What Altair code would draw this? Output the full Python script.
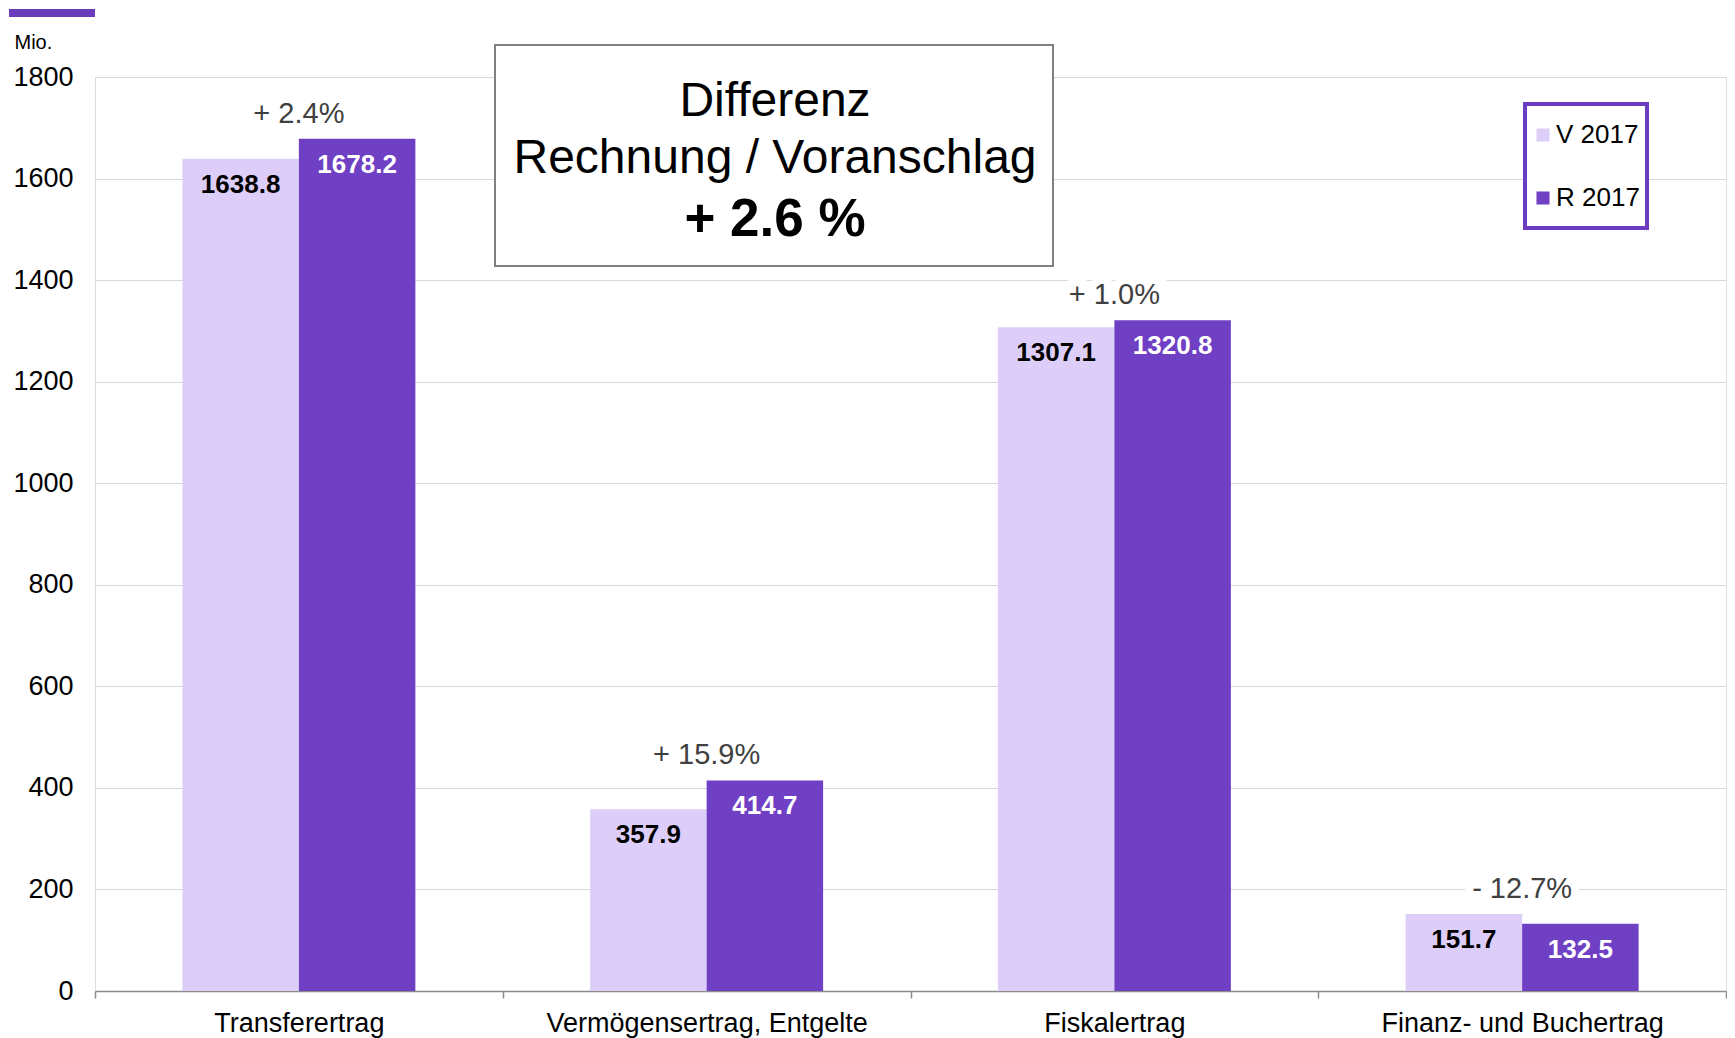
import altair as alt
import pandas as pd

categories = ["Transferertrag", "Vermögensertrag, Entgelte", "Fiskalertrag", "Finanz- und Buchertrag"]
series_names = ["V 2017", "R 2017"]
v_values = [1638.8, 357.9, 1307.1, 151.7]
r_values = [1678.2, 414.7, 1320.8, 132.5]
pct_labels = ["+ 2.4%", "+ 15.9%", "+ 1.0%", "- 12.7%"]
y_ticks = [0, 200, 400, 600, 800, 1000, 1200, 1400, 1600, 1800]
box_lines = ["Differenz", "Rechnung / Voranschlag", "+ 2.6 %"]

FONT = "Liberation Sans"
LIGHT = "#DDCEF9"
DARK = "#7040C4"

rows = []
for c, v, r in zip(categories, v_values, r_values):
    rows.append({"cat": c, "series": series_names[0], "value": v, "label": f"{v:.1f}"})
    rows.append({"cat": c, "series": series_names[1], "value": r, "label": f"{r:.1f}"})
df = pd.DataFrame(rows)

pct_df = pd.DataFrame({
    "cat": categories,
    "value": [max(v, r) for v, r in zip(v_values, r_values)],
    "pct": pct_labels,
})

x_enc = alt.X(
    "cat:N", sort=categories,
    scale=alt.Scale(paddingInner=0, paddingOuter=0),
    axis=alt.Axis(title=None, labelAngle=0, labelFontSize=27, labelColor="black",
                  labelFont=FONT, labelLimit=0, ticks=True, tickBand="extent", tickSize=7,
                  tickColor="#8c8c8c", domainColor="#8c8c8c", domainWidth=1.5,
                  tickWidth=1.5, labelPadding=12, grid=False),
)
y_enc = alt.Y(
    "value:Q",
    scale=alt.Scale(domain=[0, 1800], nice=False),
    axis=alt.Axis(title="Mio.", titleAngle=0, titleX=-81, titleY=-35, titleAlign="left",
                  titleBaseline="middle", titleFontSize=20, titleFontWeight="normal",
                  titleFont=FONT, titleColor="black", format="d",
                  values=y_ticks, labelFontSize=27, labelFont=FONT, labelColor="black",
                  ticks=False, domain=False, labelPadding=22,
                  grid=True, gridColor="#d9d9d9", gridWidth=1),
)
xoff_enc = alt.XOffset("series:N", sort=series_names,
                       scale=alt.Scale(paddingInner=0, paddingOuter=0.75))

bars = alt.Chart(df).mark_bar().encode(
    x=x_enc,
    xOffset=xoff_enc,
    y=y_enc,
    color=alt.Color(
        "series:N", sort=series_names,
        scale=alt.Scale(domain=series_names, range=[LIGHT, DARK]),
        legend=alt.Legend(
            title=None, orient="none", legendX=1419, legendY=29,
            symbolType="square", symbolSize=170, symbolStrokeWidth=0,
            labelFontSize=26, labelFont=FONT, labelColor="black", labelOffset=0,
            padding=16, rowPadding=37,
        ),
    ),
)

values_text = alt.Chart(df).mark_text(
    font=FONT, fontSize=26, fontWeight="bold", dy=26, baseline="middle"
).encode(
    x=x_enc,
    xOffset=xoff_enc,
    y=y_enc,
    text="label:N",
    color=alt.condition(alt.datum.series == series_names[0], alt.value("black"), alt.value("white")),
)

pct_halo = alt.Chart(pct_df).mark_text(
    font=FONT, fontSize=29, dy=-25, baseline="middle",
    fill="white", stroke="white", strokeWidth=16,
).encode(x=x_enc, y=y_enc, text="pct:N")

pct_text = alt.Chart(pct_df).mark_text(
    font=FONT, fontSize=29, dy=-25, baseline="middle", color="#404040",
).encode(x=x_enc, y=y_enc, text="pct:N")

one = alt.Data(values=[{}])

box = alt.Chart(one).mark_rect(fill="white", stroke="#808080", strokeWidth=2).encode(
    x=alt.value(400), x2=alt.value(958), y=alt.value(-32), y2=alt.value(189)
)
line1 = alt.Chart(one).mark_text(font=FONT, fontSize=48, color="black", baseline="middle").encode(
    x=alt.value(680), y=alt.value(25), text=alt.value(box_lines[0]))
line2 = alt.Chart(one).mark_text(font=FONT, fontSize=48, color="black", baseline="middle").encode(
    x=alt.value(680), y=alt.value(82), text=alt.value(box_lines[1]))
line3 = alt.Chart(one).mark_text(font=FONT, fontSize=53, fontWeight="bold", color="black",
                                 baseline="middle").encode(
    x=alt.value(680), y=alt.value(143), text=alt.value(box_lines[2]))

legend_box = alt.Chart(one).mark_rect(fill="white", stroke="#6A3DC0", strokeWidth=4).encode(
    x=alt.value(1430), x2=alt.value(1552), y=alt.value(27), y2=alt.value(151)
)

accent = alt.Chart(one).mark_rect(fill="#6A3DB8").encode(
    x=alt.value(-86), x2=alt.value(0), y=alt.value(-68), y2=alt.value(-60)
)

chart = alt.layer(
    bars, values_text, pct_halo, pct_text, box, line1, line2, line3, legend_box, accent
).properties(
    width=1631, height=914,
    autosize=alt.AutoSizeParams(type="none"),
    padding={"left": 87, "top": 69, "right": 1, "bottom": 48},
).configure_view(stroke=None).configure(background="white")

chart.save("out.html", embed_options={"renderer": "svg", "actions": False})
